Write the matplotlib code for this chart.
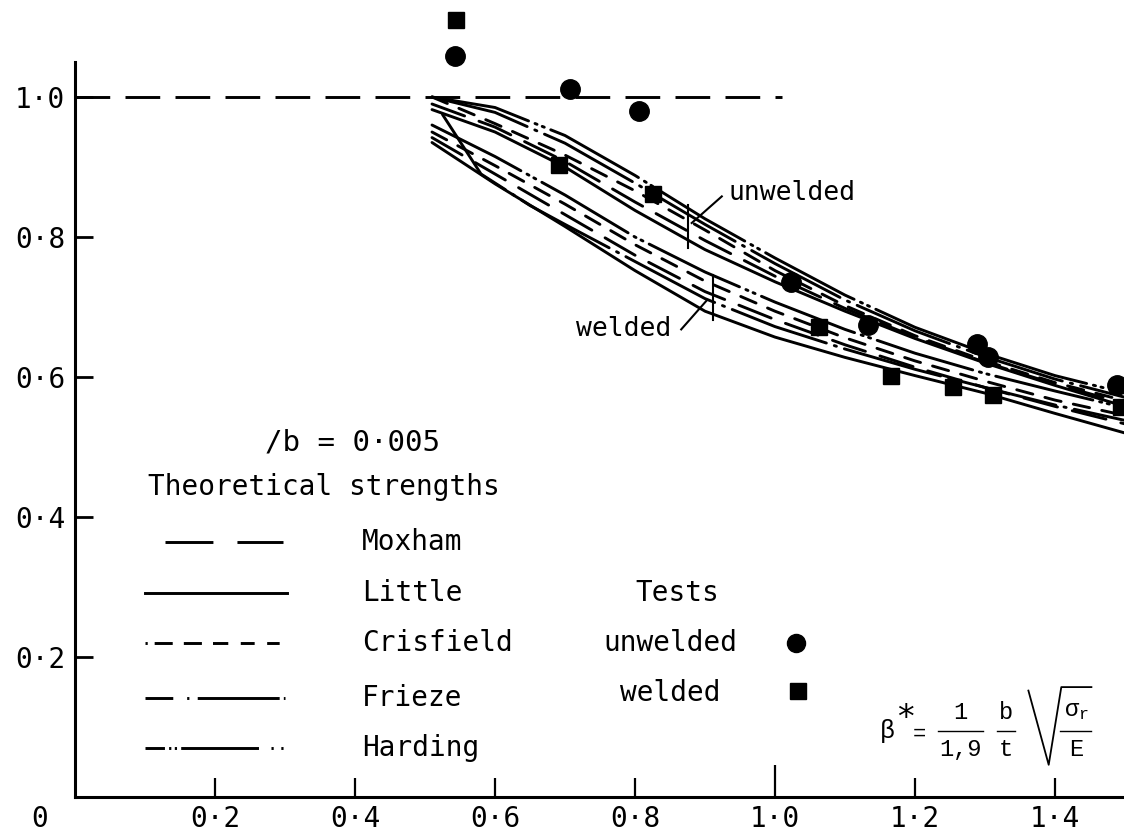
import matplotlib
matplotlib.use('Agg')
import matplotlib.pyplot as plt

plt.rcParams['font.family'] = ['DejaVu Sans Mono', 'DejaVu Sans']
plt.rcParams['lines.scale_dashes'] = False
plt.rcParams['mathtext.fontset'] = 'custom'
plt.rcParams['mathtext.rm'] = 'Liberation Mono'
plt.rcParams['mathtext.it'] = 'Liberation Mono'
plt.rcParams['mathtext.sf'] = 'Liberation Mono'

# ---------------- data ----------------
x_ticks = [0.2, 0.4, 0.6, 0.8, 1.2, 1.4]
x_tick_labels = ['0·2', '0·4', '0·6', '0·8', '1·2', '1·4']
y_ticks = [0.2, 0.4, 0.6, 0.8, 1.0]
y_tick_labels = ['0·2', '0·4', '0·6', '0·8', '1·0']

moxham_flat_x = [0.0, 1.01]
moxham_flat_y = [1.0, 1.0]

cx = [0.51, 0.6, 0.7, 0.8, 0.9, 1.0, 1.1, 1.2, 1.3, 1.4, 1.5]

harding_unwelded = [1.00, 0.985, 0.945, 0.888, 0.826, 0.770, 0.717, 0.671, 0.634, 0.602, 0.577]
frieze_unwelded = [1.00, 0.978, 0.934, 0.877, 0.818, 0.762, 0.710, 0.666, 0.629, 0.597, 0.571]
crisfield_unwelded = [1.00, 0.962, 0.917, 0.866, 0.810, 0.752, 0.702, 0.659, 0.623, 0.592, 0.566]
moxham_unwelded = [0.99, 0.957, 0.908, 0.850, 0.795, 0.744, 0.698, 0.657, 0.621, 0.590, 0.562]
little_unwelded = [0.982, 0.950, 0.900, 0.838, 0.782, 0.736, 0.694, 0.655, 0.620, 0.588, 0.558]

harding_welded = [0.960, 0.915, 0.860, 0.800, 0.750, 0.707, 0.668, 0.634, 0.605, 0.580, 0.556]
crisfield_welded = [0.950, 0.902, 0.847, 0.789, 0.737, 0.694, 0.656, 0.623, 0.594, 0.567, 0.545]
moxham_welded = [0.942, 0.890, 0.832, 0.774, 0.722, 0.682, 0.646, 0.614, 0.585, 0.558, 0.533]
little_welded = [0.935, 0.876, 0.815, 0.752, 0.694, 0.657, 0.628, 0.602, 0.577, 0.548, 0.520]
frieze_welded_x = [0.525, 0.58, 0.65, 0.7, 0.8, 0.9, 1.0, 1.1, 1.2, 1.3, 1.4, 1.5]
frieze_welded = [0.975, 0.890, 0.845, 0.818, 0.765, 0.712, 0.672, 0.640, 0.611, 0.585, 0.560, 0.538]

unwelded_x = [0.543, 0.707, 0.806, 1.023, 1.133, 1.289, 1.304, 1.489]
unwelded_y = [1.059, 1.011, 0.980, 0.736, 0.674, 0.647, 0.629, 0.589]
welded_x = [0.544, 0.691, 0.826, 1.063, 1.166, 1.254, 1.311, 1.494]
welded_y = [1.110, 0.903, 0.861, 0.671, 0.601, 0.586, 0.574, 0.557]

# ---------------- styles ----------------
LW = 2.1
styles = {
    'Moxham': (0, (25, 11)),
    'Little': '-',
    'Crisfield': (0, (12, 9)),
    'Frieze': (0, (72, 6, 1.6, 6)),
    'Harding': (0, (72, 5, 1.6, 4, 1.6, 5)),
}
legend_styles = {
    'Moxham': (0, (34.5, 17.3)),
    'Little': '-',
    'Crisfield': (0, (1.6, 5, 13, 8, 13, 8, 11, 9, 10, 9, 9, 20)),
    'Frieze': (0, (20, 10, 1.6, 6, 59, 3, 1.6, 20)),
    'Harding': (0, (14, 3, 1.6, 2.5, 1.6, 3, 56, 9, 1.6, 5.5, 1.6, 20)),
}
legend_x = {
    'Moxham': (0.129, 0.297), 'Little': (0.10, 0.303), 'Crisfield': (0.10, 0.30),
    'Frieze': (0.10, 0.30), 'Harding': (0.10, 0.30),
}

fig = plt.figure(figsize=(11.24, 8.36), dpi=100)
W, H = 1124, 836
x0px, y0px, ppu = 75, 797, 700.0
ax = fig.add_axes([x0px / W, (H - y0px) / H, (W - x0px) / W, (y0px - 9) / H])
ax.set_xlim(0, (W - x0px) / ppu)
ax.set_ylim(0, (y0px - 9) / ppu)

for s in ['top', 'right']:
    ax.spines[s].set_visible(False)
ax.spines['left'].set_bounds(0, 1.05)
ax.spines['left'].set_linewidth(2.2)
ax.spines['bottom'].set_linewidth(2.2)

ax.set_yticks(y_ticks, labels=y_tick_labels)
ax.set_xticks(x_ticks, labels=x_tick_labels)
ax.set_xticks([1.0], labels=['1·0'], minor=True)
ax.tick_params(axis='y', direction='in', length=13, width=2, pad=7, labelsize=20)
ax.tick_params(axis='x', which='major', direction='in', length=14, width=1.6, pad=6, labelsize=20)
ax.tick_params(axis='x', which='minor', direction='in', length=23, width=1.6, pad=6, labelsize=20)
ax.text(-0.05, -0.031, '0', fontsize=20, ha='center', va='center', clip_on=False)

# horizontal Moxham line
ax.plot(moxham_flat_x, moxham_flat_y, color='black', lw=LW, linestyle=styles['Moxham'])

curves = [
    ('Harding', cx, harding_unwelded), ('Frieze', cx, frieze_unwelded),
    ('Crisfield', cx, crisfield_unwelded), ('Moxham', cx, moxham_unwelded),
    ('Little', cx, little_unwelded),
    ('Harding', cx, harding_welded), ('Frieze', frieze_welded_x, frieze_welded),
    ('Crisfield', cx, crisfield_welded), ('Moxham', cx, moxham_welded),
    ('Little', cx, little_welded),
]
for name, xs, ys in curves:
    ax.plot(xs, ys, color='black', lw=LW, linestyle=styles[name],
            solid_capstyle='round', dash_capstyle='round')

ax.plot(unwelded_x, unwelded_y, 'o', color='black', ms=14)
ax.plot(welded_x, welded_y, 's', color='black', ms=12)

# annotations unwelded/welded
ax.plot([0.876, 0.876], [0.784, 0.846], color='black', lw=1.5)
ax.plot([0.881, 0.924], [0.820, 0.858], color='black', lw=1.5)
ax.text(0.933, 0.863, 'unwelded', fontsize=19, va='center', ha='left')
ax.plot([0.911, 0.911], [0.681, 0.746], color='black', lw=1.5)
ax.plot([0.903, 0.866], [0.710, 0.668], color='black', lw=1.5)
ax.text(0.852, 0.668, 'welded', fontsize=19, va='center', ha='right')

# legend block
ax.text(0.271, 0.507, '/b = 0·005', fontsize=21, va='center', ha='left')
ax.text(0.104, 0.443, 'Theoretical strengths', fontsize=20, va='center', ha='left')
leg_rows = [('Moxham', 0.364), ('Little', 0.291), ('Crisfield', 0.220),
            ('Frieze', 0.141), ('Harding', 0.070)]
for name, yy in leg_rows:
    ax.plot(legend_x[name], [yy, yy], color='black', lw=LW, linestyle=legend_styles[name])
    ax.text(0.41, yy, name, fontsize=20, va='center', ha='left')

ax.text(0.861, 0.291, 'Tests', fontsize=20, va='center', ha='center')
ax.text(0.851, 0.220, 'unwelded', fontsize=20, va='center', ha='center')
ax.text(0.851, 0.149, 'welded', fontsize=20, va='center', ha='center')
ax.plot([1.03], [0.220], 'o', color='black', ms=13)
ax.plot([1.033], [0.151], 's', color='black', ms=11)

# beta* definition, typeset piece by piece
FF = 'Liberation Mono'
FS = 17
kw = dict(color='black', lw=1.0)
ax.text(1.148, 0.094, r'$\beta$', fontsize=18, va='center', ha='left', family=FF)
ax.text(1.175, 0.112, '*', fontsize=24, va='center', ha='left', family='DejaVu Sans')
ax.text(1.197, 0.090, '=', fontsize=16, va='center', ha='left', family=FF)
ax.text(1.265, 0.121, '1', fontsize=FS, va='center', ha='center', family=FF)
ax.plot([1.233, 1.297], [0.094, 0.094], **kw)
ax.text(1.265, 0.068, '1,9', fontsize=FS, va='center', ha='center', family=FF)
ax.text(1.330, 0.121, 'b', fontsize=FS, va='center', ha='center', family=FF)
ax.plot([1.317, 1.343], [0.094, 0.094], **kw)
ax.text(1.330, 0.068, 't', fontsize=FS, va='center', ha='center', family=FF)
ax.plot([1.362, 1.391, 1.409, 1.452], [0.152, 0.046, 0.157, 0.157], color='black', lw=1.3)
ax.text(1.430, 0.125, r'$\sigma_r$', fontsize=FS, va='center', ha='center')
ax.plot([1.407, 1.452], [0.094, 0.094], **kw)
ax.text(1.430, 0.068, 'E', fontsize=FS, va='center', ha='center', family=FF)

fig.savefig('out.png', dpi=100)
